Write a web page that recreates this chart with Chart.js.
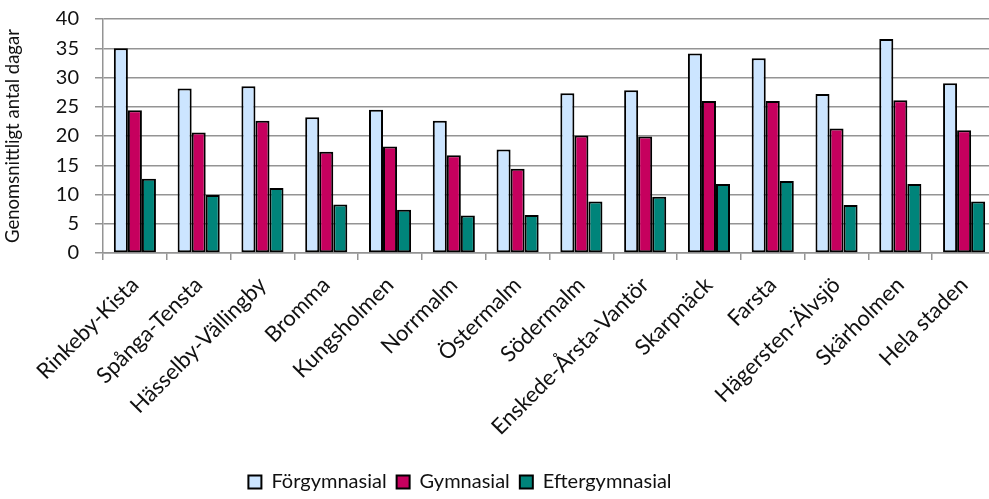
<!DOCTYPE html>
<html lang="sv">
<head>
<meta charset="utf-8">
<title>Genomsnittligt antal dagar per stadsdel</title>
<script src="https://cdn.jsdelivr.net/npm/chart.js@4/dist/chart.umd.min.js"></script>
<style>
  html, body { margin: 0; padding: 0; overflow: hidden; background: #ffffff; }
  #wrap { position: relative; width: 996px; height: 499px; }
</style>
</head>
<body>
<div id="wrap"><canvas id="chart"></canvas></div>
<script>
// Stadsdelar (categories)
const categories = [
  'Rinkeby-Kista', 'Spånga-Tensta', 'Hässelby-Vällingby', 'Bromma', 'Kungsholmen',
  'Norrmalm', 'Östermalm', 'Södermalm', 'Enskede-Årsta-Vantör', 'Skarpnäck',
  'Farsta', 'Hägersten-Älvsjö', 'Skärholmen', 'Hela staden'
];

// Genomsnittligt antal dagar per utbildningsnivå
const forgymnasial   = [35.0, 28.1, 28.5, 23.2, 24.5, 22.6, 17.7, 27.3, 27.8, 34.1, 33.3, 27.2, 36.6, 29.0];
const gymnasial      = [24.4, 20.6, 22.6, 17.3, 18.2, 16.7, 14.4, 20.1, 19.9, 26.0, 26.0, 21.3, 26.1, 21.0];
const eftergymnasial = [12.7,  9.9, 11.1,  8.3,  7.4,  6.4,  6.5,  8.8,  9.6, 11.8, 12.3,  8.2, 11.8,  8.8];

// Value axis
const yMin = 0;
const yMax = 40;
const yStep = 5;

const seriesNames = ['Förgymnasial', 'Gymnasial', 'Eftergymnasial'];
const seriesColors = ['#CCE5FF', '#C6005E', '#00847A'];

const gridColor = '#949494';
const textColor = '#111111';
const fontFamily = 'Lato, "Open Sans", sans-serif';

// Nudges the legend row so it sits slightly left of the page centre
const legendShift = {
  id: 'legendShift',
  afterLayout(chart) {
    const lg = chart.legend;
    if (!lg) return;
    lg.left -= 38;
    lg.right -= 38;
    lg.top += 3;
    lg.bottom += 3;
  }
};

new Chart(document.getElementById('chart'), {
  type: 'bar',
  data: {
    labels: categories,
    datasets: [forgymnasial, gymnasial, eftergymnasial].map((values, i) => ({
      label: seriesNames[i],
      data: values,
      backgroundColor: seriesColors[i],
      borderColor: '#000000',
      borderWidth: 2,
      borderSkipped: false,
      categoryPercentage: 0.66,
      barPercentage: 1.0
    }))
  },
  options: {
    responsive: true,
    maintainAspectRatio: false,
    animation: false,
    layout: { padding: { top: 19, left: 0, right: 0, bottom: 0 } },
    plugins: {
      tooltip: { enabled: false },
      legend: {
        position: 'bottom',
        labels: {
          boxWidth: 13,
          boxHeight: 13,
          padding: 10,
          color: textColor,
          font: { family: fontFamily, size: 20 }
        }
      }
    },
    scales: {
      x: {
        afterFit(scale) { scale.height = 206; },
        grid: {
          display: true,
          drawOnChartArea: false,
          drawTicks: true,
          tickLength: 7,
          color: gridColor,
          lineWidth: 1.5,
          offset: true
        },
        border: { display: true, color: gridColor, width: 1.5 },
        ticks: {
          autoSkip: false,
          minRotation: 45,
          maxRotation: 45,
          padding: 12,
          color: textColor,
          font: { family: fontFamily, size: 22 }
        }
      },
      y: {
        min: yMin,
        max: yMax,
        afterFit(scale) {
          scale.width = 103;
          // the top tick label may overhang the plot; keep the plot top fixed by layout padding
          scale.paddingTop = 0;
        },
        grid: {
          color: gridColor,
          lineWidth: 1.5,
          tickLength: 8
        },
        border: { display: true, color: gridColor, width: 1.5 },
        ticks: {
          stepSize: yStep,
          padding: 16,
          color: textColor,
          font: { family: fontFamily, size: 20 }
        },
        title: {
          display: true,
          text: 'Genomsnittligt antal dagar',
          color: textColor,
          font: { family: fontFamily, size: 18.5 },
          padding: { top: 2, bottom: 4 }
        }
      }
    }
  },
  plugins: [legendShift]
});
</script>
</body>
</html>
